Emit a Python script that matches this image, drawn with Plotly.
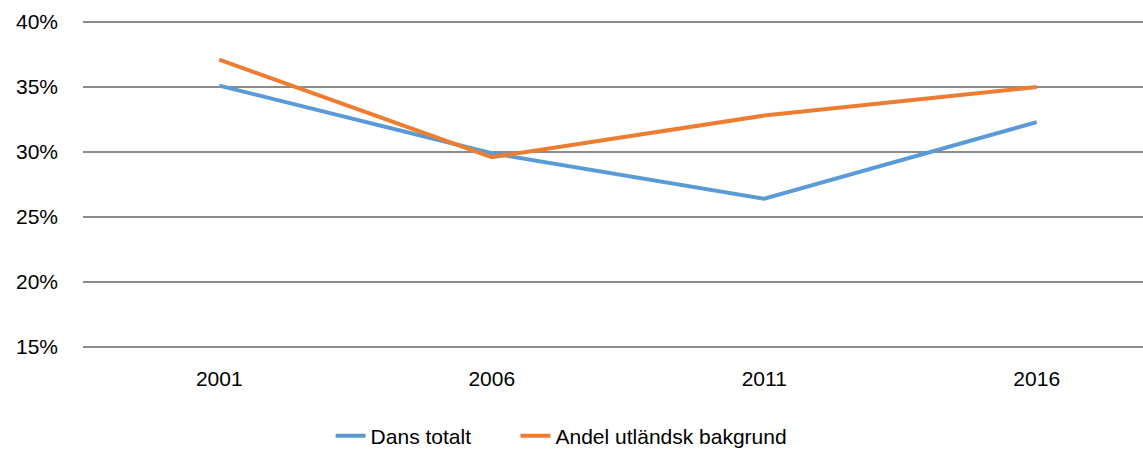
import plotly.graph_objects as go

years = ["2001", "2006", "2011", "2016"]
dans_totalt = [0.351, 0.299, 0.264, 0.323]
andel_utlandsk = [0.371, 0.296, 0.328, 0.350]
y_ticks = [0.15, 0.20, 0.25, 0.30, 0.35, 0.40]
y_tick_labels = ["15%", "20%", "25%", "30%", "35%", "40%"]

font_family = "Liberation Sans, Arial, sans-serif"

fig = go.Figure()
fig.add_trace(go.Scatter(x=years, y=dans_totalt, mode="lines", name="Dans totalt",
                         line=dict(color="#5B9BD5", width=4), legend="legend"))
fig.add_trace(go.Scatter(x=years, y=andel_utlandsk, mode="lines", name="Andel utländsk bakgrund",
                         line=dict(color="#ED7D31", width=4), legend="legend2"))

legend_common = dict(orientation="h", xanchor="left", y=-0.26, yanchor="middle",
                     font=dict(size=21), bgcolor="rgba(0,0,0,0)")

fig.update_layout(
    width=1143, height=457,
    margin=dict(l=83, r=0, t=19, b=103),
    paper_bgcolor="white", plot_bgcolor="white",
    font=dict(family=font_family, size=21, color="#000000"),
    showlegend=True,
    legend=dict(x=0.2336, **legend_common),
    legend2=dict(x=0.408, **legend_common),
    xaxis=dict(type="category", range=[-0.5, 3.39], showgrid=False, zeroline=False,
               showline=False, ticks="", ticklabelstandoff=14,
               tickfont=dict(size=21)),
    yaxis=dict(range=[0.14772, 0.40228], tickvals=y_ticks, ticktext=y_tick_labels,
               showgrid=True, gridcolor="#8C8C8C", gridwidth=2, zeroline=False,
               showline=False, ticks="", ticklabelstandoff=24,
               tickfont=dict(size=21)),
)

page_css = ("document.documentElement.style.overflow='hidden';"
            "document.body.style.margin='0';"
            "document.body.style.overflow='hidden';")

fig.write_html("out.html", post_script=page_css, config={"displayModeBar": False})
